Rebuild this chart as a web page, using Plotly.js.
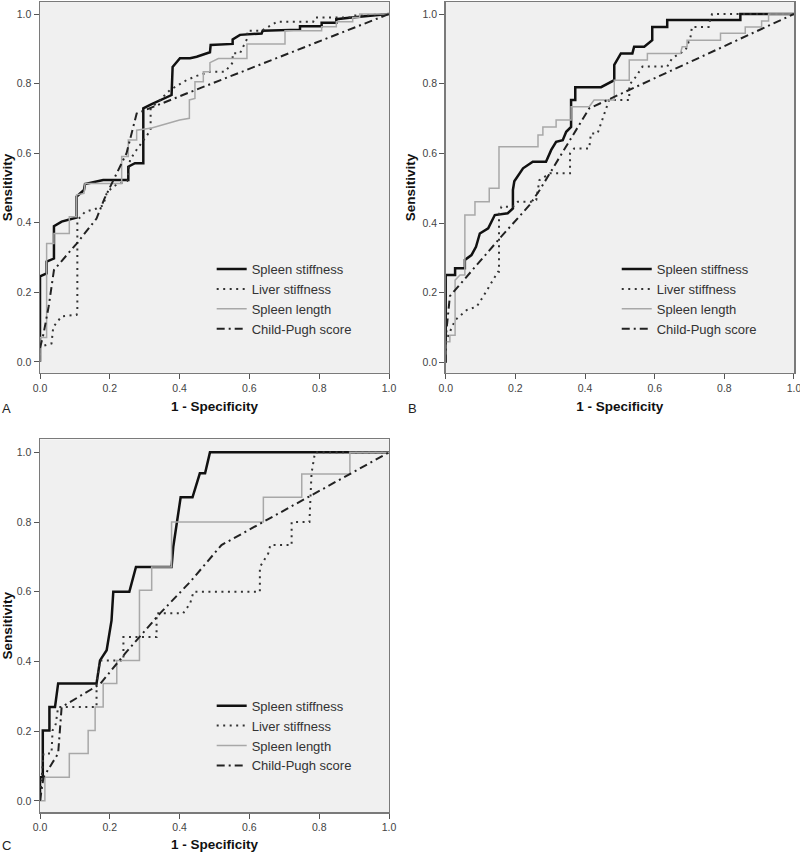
<!DOCTYPE html>
<html>
<head>
<meta charset="utf-8">
<script src="https://cdn.plot.ly/plotly-3.0.1.min.js"></script>
<style>html,body{margin:0;padding:0;background:#fff;}#chart{width:800px;height:852px;}</style>
</head>
<body>
<div id="chart"></div>
<script>
// ---------- Data ----------
const seriesNames = ['Spleen stiffness', 'Liver stiffness', 'Spleen length', 'Child-Pugh score'];
const xTicks = [0.0, 0.2, 0.4, 0.6, 0.8, 1.0];
const yTicks = [0.0, 0.2, 0.4, 0.6, 0.8, 1.0];
const panelLetters = ['A', 'B', 'C'];

// Panel A
const A_spleenStiff_x = [0,0,0.019,0.019,0.04,0.04,0.062,0.105,0.105,0.126,0.129,0.162,0.181,0.253,0.253,0.272,0.296,0.296,0.32,0.377,0.38,0.401,0.43,0.449,0.487,0.489,0.552,0.552,0.573,0.635,0.638,0.745,0.745,0.807,0.807,0.849,0.849,0.893,0.975,1];
const A_spleenStiff_y = [0,0.246,0.254,0.288,0.297,0.39,0.403,0.415,0.475,0.494,0.511,0.518,0.523,0.523,0.561,0.571,0.571,0.729,0.741,0.767,0.848,0.873,0.873,0.877,0.89,0.911,0.914,0.927,0.94,0.944,0.952,0.955,0.965,0.965,0.975,0.975,0.985,0.99,0.997,1];
const A_liver_x = [0,0,0.033,0.038,0.062,0.105,0.107,0.107,0.129,0.162,0.181,0.191,0.205,0.22,0.25,0.258,0.27,0.3,0.317,0.317,0.344,0.372,0.42,0.449,0.487,0.53,0.552,0.552,0.573,0.594,0.594,0.635,0.68,0.783,0.788,0.888,0.893,1];
const A_liver_y = [0,0.043,0.053,0.1,0.131,0.135,0.144,0.407,0.431,0.441,0.45,0.484,0.5,0.51,0.52,0.58,0.6,0.64,0.666,0.729,0.753,0.781,0.81,0.822,0.834,0.834,0.86,0.887,0.887,0.93,0.952,0.952,0.978,0.978,0.99,0.99,0.995,1];
const A_length_x = [0,0,0.019,0.019,0.04,0.04,0.084,0.084,0.105,0.105,0.126,0.129,0.234,0.234,0.253,0.253,0.277,0.277,0.32,0.35,0.4,0.428,0.428,0.444,0.444,0.468,0.468,0.487,0.487,0.511,0.593,0.593,0.702,0.702,0.807,0.807,0.849,0.849,0.896,0.896,0.916,0.916,1];
const A_length_y = [0,0.07,0.07,0.34,0.34,0.369,0.369,0.417,0.417,0.48,0.484,0.513,0.513,0.59,0.59,0.638,0.638,0.666,0.672,0.68,0.695,0.7,0.753,0.757,0.805,0.805,0.834,0.834,0.86,0.872,0.872,0.914,0.914,0.952,0.952,0.963,0.963,0.978,0.978,0.99,0.99,1,1];
const A_childPugh_x = [0,0.01,0.025,0.04,0.105,0.162,0.185,0.248,0.277,0.444,1];
const A_childPugh_y = [0.04,0.08,0.16,0.264,0.34,0.412,0.47,0.6,0.714,0.781,1];

// Panel B
const B_spleenStiff_x = [0,0,0.027,0.027,0.055,0.055,0.074,0.087,0.098,0.122,0.141,0.178,0.193,0.193,0.197,0.222,0.25,0.288,0.303,0.317,0.336,0.346,0.36,0.36,0.372,0.372,0.446,0.484,0.484,0.503,0.536,0.541,0.57,0.593,0.593,0.636,0.636,0.846,0.846,1];
const B_spleenStiff_y = [0,0.251,0.251,0.27,0.27,0.294,0.308,0.332,0.37,0.385,0.423,0.428,0.442,0.495,0.52,0.557,0.576,0.576,0.61,0.633,0.638,0.662,0.676,0.753,0.753,0.79,0.79,0.81,0.854,0.887,0.887,0.906,0.906,0.925,0.963,0.963,0.983,0.983,1,1];
const B_liver_x = [0,0,0.01,0.027,0.06,0.089,0.107,0.136,0.15,0.153,0.153,0.16,0.193,0.207,0.245,0.26,0.265,0.269,0.3,0.357,0.357,0.369,0.412,0.417,0.436,0.455,0.469,0.527,0.527,0.546,0.565,0.636,0.65,0.689,0.703,0.707,0.755,0.76,0.765,1];
const B_liver_y = [0,0.06,0.083,0.121,0.15,0.16,0.188,0.236,0.26,0.26,0.423,0.447,0.447,0.461,0.461,0.466,0.495,0.523,0.543,0.543,0.6,0.614,0.614,0.657,0.657,0.715,0.753,0.753,0.796,0.82,0.849,0.849,0.873,0.897,0.935,0.963,0.963,0.988,1,1];
const B_length_x = [0,0,0.012,0.012,0.027,0.027,0.041,0.055,0.055,0.084,0.084,0.125,0.125,0.153,0.153,0.265,0.265,0.279,0.279,0.317,0.317,0.36,0.36,0.412,0.426,0.484,0.484,0.527,0.527,0.579,0.579,0.674,0.679,0.693,0.693,0.789,0.789,0.86,0.86,0.907,0.907,0.927,0.927,1];
const B_length_y = [0,0.059,0.059,0.078,0.078,0.236,0.251,0.251,0.423,0.423,0.461,0.461,0.5,0.5,0.619,0.619,0.653,0.653,0.676,0.676,0.696,0.696,0.734,0.734,0.753,0.753,0.81,0.81,0.868,0.868,0.887,0.887,0.906,0.906,0.925,0.925,0.945,0.945,0.963,0.963,0.98,0.98,1,1];
const B_childPugh_x = [0,0,0.012,0.155,0.241,0.27,0.412,1];
const B_childPugh_y = [0,0.07,0.19,0.356,0.452,0.495,0.729,1];

// Panel C
const C_spleenStiff_x = [0,0,0.008,0.008,0.027,0.027,0.043,0.052,0.162,0.172,0.191,0.205,0.21,0.256,0.275,0.377,0.382,0.392,0.403,0.437,0.458,0.473,0.487,1];
const C_spleenStiff_y = [0,0.068,0.068,0.202,0.202,0.269,0.269,0.337,0.337,0.403,0.432,0.518,0.6,0.6,0.671,0.671,0.73,0.8,0.871,0.871,0.94,0.94,1,1];
const C_liver_x = [0,0.005,0.01,0.033,0.036,0.045,0.052,0.162,0.162,0.172,0.239,0.239,0.334,0.334,0.41,0.43,0.44,0.63,0.63,0.654,0.66,0.721,0.721,0.772,0.778,0.788,1];
const C_liver_y = [0,0.068,0.136,0.136,0.202,0.22,0.269,0.269,0.337,0.403,0.403,0.47,0.47,0.538,0.538,0.566,0.6,0.6,0.671,0.71,0.734,0.734,0.8,0.8,0.94,1,1];
const C_length_x = [0,0.014,0.014,0.084,0.084,0.138,0.138,0.158,0.158,0.181,0.181,0.22,0.22,0.285,0.285,0.32,0.32,0.377,0.377,0.64,0.64,0.75,0.75,0.888,0.888,1];
const C_length_y = [0,0,0.068,0.068,0.136,0.136,0.202,0.202,0.269,0.269,0.337,0.337,0.403,0.403,0.604,0.604,0.671,0.671,0.8,0.8,0.871,0.871,0.938,0.938,1,1];
const C_childPugh_x = [0,0.01,0.052,0.062,0.172,0.244,0.344,0.43,0.52,1];
const C_childPugh_y = [0,0.068,0.136,0.269,0.335,0.423,0.538,0.628,0.734,1];

// ---------- Styles ----------
const FONT = 'Liberation Sans, Arial, Helvetica, sans-serif';
const styles = [
  {color: '#111111', width: 2.5, dash: 'solid'},
  {color: '#333333', width: 2, dash: '2px,4.5px'},
  {color: '#a8a8a8', width: 1.5, dash: 'solid'},
  {color: '#222222', width: 2, dash: '8px,4px,2px,4px'}
];

const panels = [
  {xa: 'x', ya: 'y', legend: 'legend', data: [[A_spleenStiff_x, A_spleenStiff_y],[A_liver_x, A_liver_y],[A_length_x, A_length_y],[A_childPugh_x, A_childPugh_y]]},
  {xa: 'x2', ya: 'y2', legend: 'legend2', data: [[B_spleenStiff_x, B_spleenStiff_y],[B_liver_x, B_liver_y],[B_length_x, B_length_y],[B_childPugh_x, B_childPugh_y]]},
  {xa: 'x3', ya: 'y3', legend: 'legend3', data: [[C_spleenStiff_x, C_spleenStiff_y],[C_liver_x, C_liver_y],[C_length_x, C_length_y],[C_childPugh_x, C_childPugh_y]]}
];

const traces = [];
panels.forEach(p => {
  p.data.forEach((d, i) => {
    traces.push({
      type: 'scatter', mode: 'lines',
      x: d[0], y: d[1],
      xaxis: p.xa, yaxis: p.ya,
      name: seriesNames[i],
      legend: p.legend,
      line: {color: styles[i].color, width: styles[i].width, dash: styles[i].dash, shape: 'linear'},
      hoverinfo: 'skip'
    });
  });
});

function xAxis(domain, anchor) {
  return {
    domain: domain, anchor: anchor, range: [0, 1],
    tickvals: xTicks, ticktext: xTicks.map(v => v.toFixed(1)),
    ticks: 'outside', ticklen: 5, tickwidth: 1, tickcolor: '#555',
    tickfont: {family: FONT, size: 10.5, color: '#444'},
    ticklabeloverflow: 'allow',
    showline: true, linecolor: '#7a7a7a', linewidth: 1.5, mirror: true,
    showgrid: false, zeroline: false, fixedrange: true, automargin: false,
    title: {text: '1 - Specificity', font: {family: FONT, size: 13.5, color: '#111', weight: 'bold'}, standoff: 8}
  };
}
function yAxis(domain, anchor, range) {
  return {
    domain: domain, anchor: anchor, range: range,
    tickvals: yTicks, ticktext: yTicks.map(v => v.toFixed(1)),
    ticks: 'outside', ticklen: 5, tickwidth: 1, tickcolor: '#555',
    tickfont: {family: FONT, size: 10.5, color: '#444'},
    ticklabeloverflow: 'allow',
    showline: true, linecolor: '#7a7a7a', linewidth: 1.5, mirror: true,
    showgrid: false, zeroline: false, fixedrange: true, automargin: false,
    title: {text: 'Sensitivity', font: {family: FONT, size: 13.5, color: '#111', weight: 'bold'}, standoff: 4}
  };
}

const legendBase = {
  bgcolor: 'rgba(0,0,0,0)', borderwidth: 0,
  font: {family: FONT, size: 13, color: '#333'},
  xanchor: 'left', yanchor: 'top', tracegroupgap: 0,
  xref: 'paper', yref: 'paper'
};

const layout = {
  width: 800, height: 852,
  margin: {l: 40, r: 6, t: 2, b: 40.3},
  paper_bgcolor: '#ffffff', plot_bgcolor: '#f0f0f0',
  font: {family: FONT},
  xaxis: xAxis([0, 0.46286], 'y'),
  yaxis: yAxis([0.54218, 1], 'x', [-0.0316, 1.0345]),
  xaxis2: xAxis([0.53806, 1], 'y2'),
  yaxis2: yAxis([0.54218, 1], 'x2', [-0.03, 1.0345]),
  xaxis3: xAxis([0, 0.46286], 'y3'),
  yaxis3: yAxis([0, 0.45992], 'x3', [-0.032, 1.037]),
  legend: Object.assign({}, legendBase, {x: 0.2277, y: 0.6888}),
  legend2: Object.assign({}, legendBase, {x: 0.7649, y: 0.6888}),
  legend3: Object.assign({}, legendBase, {x: 0.2277, y: 0.1497}),
  annotations: panelLetters.map((t, i) => ({
    text: t, xref: 'paper', yref: 'paper', showarrow: false,
    x: [-0.044, 0.4934, -0.044][i], y: [(811.7-408)/809.7, (811.7-408)/809.7, (811.7-845)/809.7][i],
    xanchor: 'center', yanchor: 'middle',
    font: {family: FONT, size: 13, color: '#222'}
  })),
  showlegend: true
};

Plotly.newPlot('chart', traces, layout, {staticPlot: true, displayModeBar: false});
</script>
</body>
</html>
